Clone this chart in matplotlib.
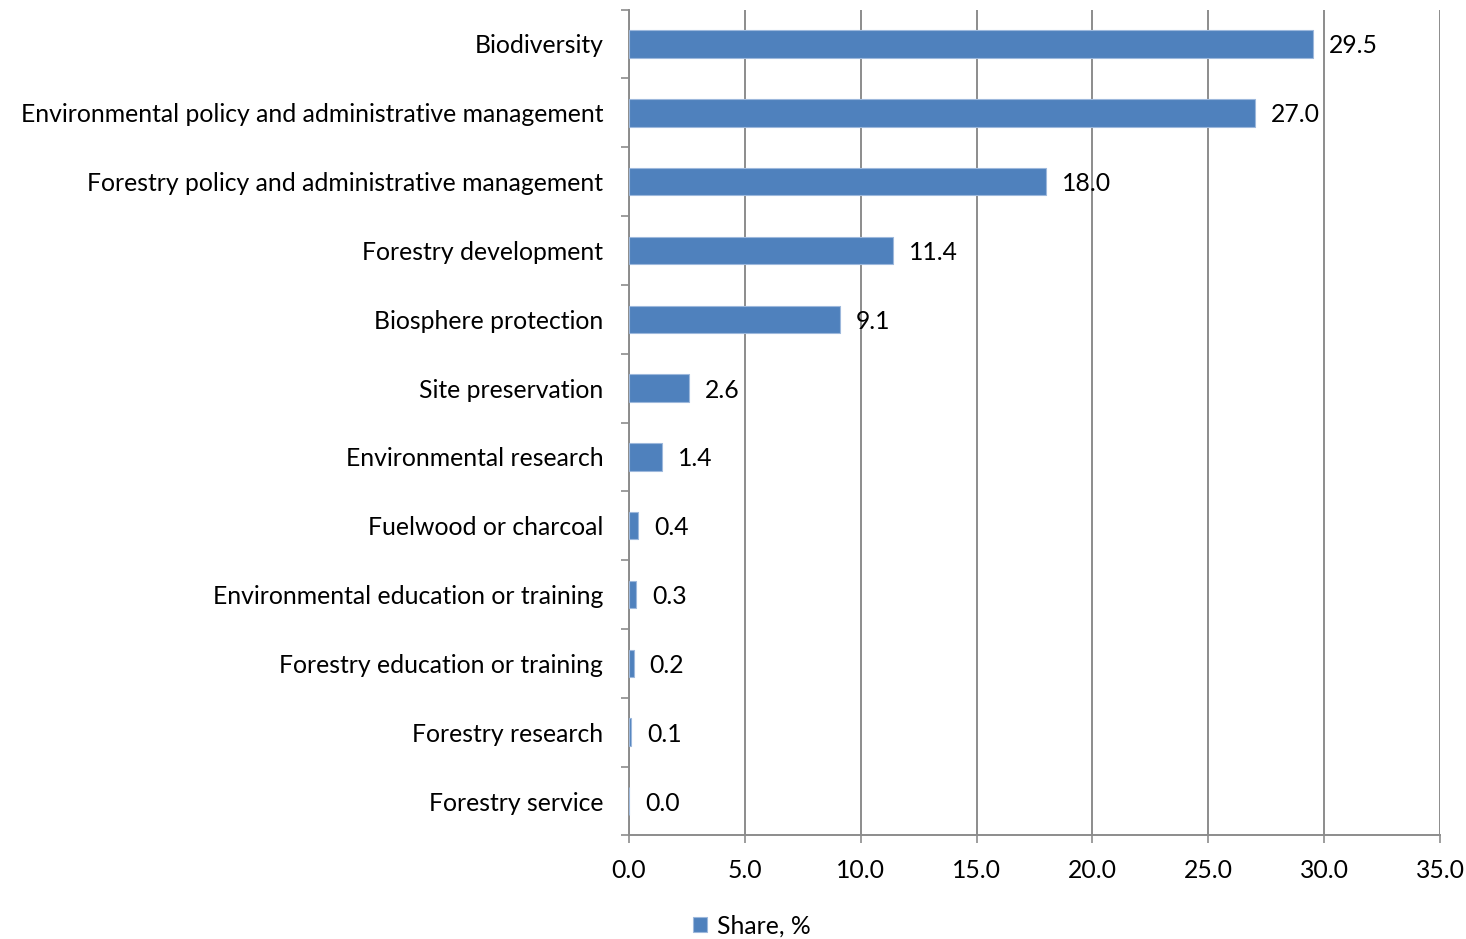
import numpy as np
import matplotlib.pyplot as plt
from matplotlib.ticker import MultipleLocator, FixedLocator

plt.rcParams['font.family'] = ['Lato', 'DejaVu Sans']

categories = ["Biodiversity",
              "Environmental policy and administrative management",
              "Forestry policy and administrative management",
              "Forestry development",
              "Biosphere protection",
              "Site preservation",
              "Environmental research",
              "Fuelwood or charcoal",
              "Environmental education or training",
              "Forestry education or training",
              "Forestry research",
              "Forestry service"]
share = [29.5, 27.0, 18.0, 11.4, 9.1, 2.6, 1.4, 0.4, 0.3, 0.2, 0.1, 0.0]

bar_color = '#4F81BD'
grid_color = '#8C8C8C'
fs = 17.8

fig = plt.figure(figsize=(14.66, 9.39), dpi=100)
ax = fig.add_axes([0.4291, 0.1103, 0.5532, 0.8795])

y = np.arange(len(categories))
bars = ax.barh(y, share, height=0.4, color=bar_color, edgecolor='#9DB8DC',
               linewidth=0.8, label='Share, %', zorder=3)

for yi, v in zip(y, share):
    ax.annotate(f"{v:.1f}", xy=(v, yi), xytext=(11.5, 0), textcoords='offset points',
                ha='left', va='center_baseline', fontsize=fs, color='black', zorder=4)

ax.set_xlim(0, 35)
ax.set_ylim(len(categories) - 0.5, -0.5)
ax.xaxis.set_major_locator(MultipleLocator(5))
ax.set_xticklabels([f"{t:.1f}" for t in ax.get_xticks()], fontsize=fs)
ax.set_yticks(y)
ax.set_yticklabels(categories, fontsize=fs, va='center_baseline')
ax.yaxis.set_minor_locator(FixedLocator(np.arange(-0.5, len(categories), 1.0)))
ax.tick_params(axis='y', which='major', length=0, pad=18.5)
ax.tick_params(axis='y', which='minor', length=6, width=1.2, color=grid_color)
ax.tick_params(axis='x', which='major', length=6, width=1.2, color=grid_color, pad=11)

ax.grid(axis='x', color=grid_color, linewidth=1.4, zorder=0)
for s in ['top', 'right']:
    ax.spines[s].set_visible(False)
for s in ['left', 'bottom']:
    ax.spines[s].set_color(grid_color)
    ax.spines[s].set_linewidth(1.4)

fig.legend(handles=[bars], labels=['Share, %'], loc='center',
           bbox_to_anchor=(0.513, 0.014), frameon=False, fontsize=fs,
           handlelength=0.55, handleheight=0.55, handletextpad=0.4)

fig.savefig('out.png', dpi=100)
